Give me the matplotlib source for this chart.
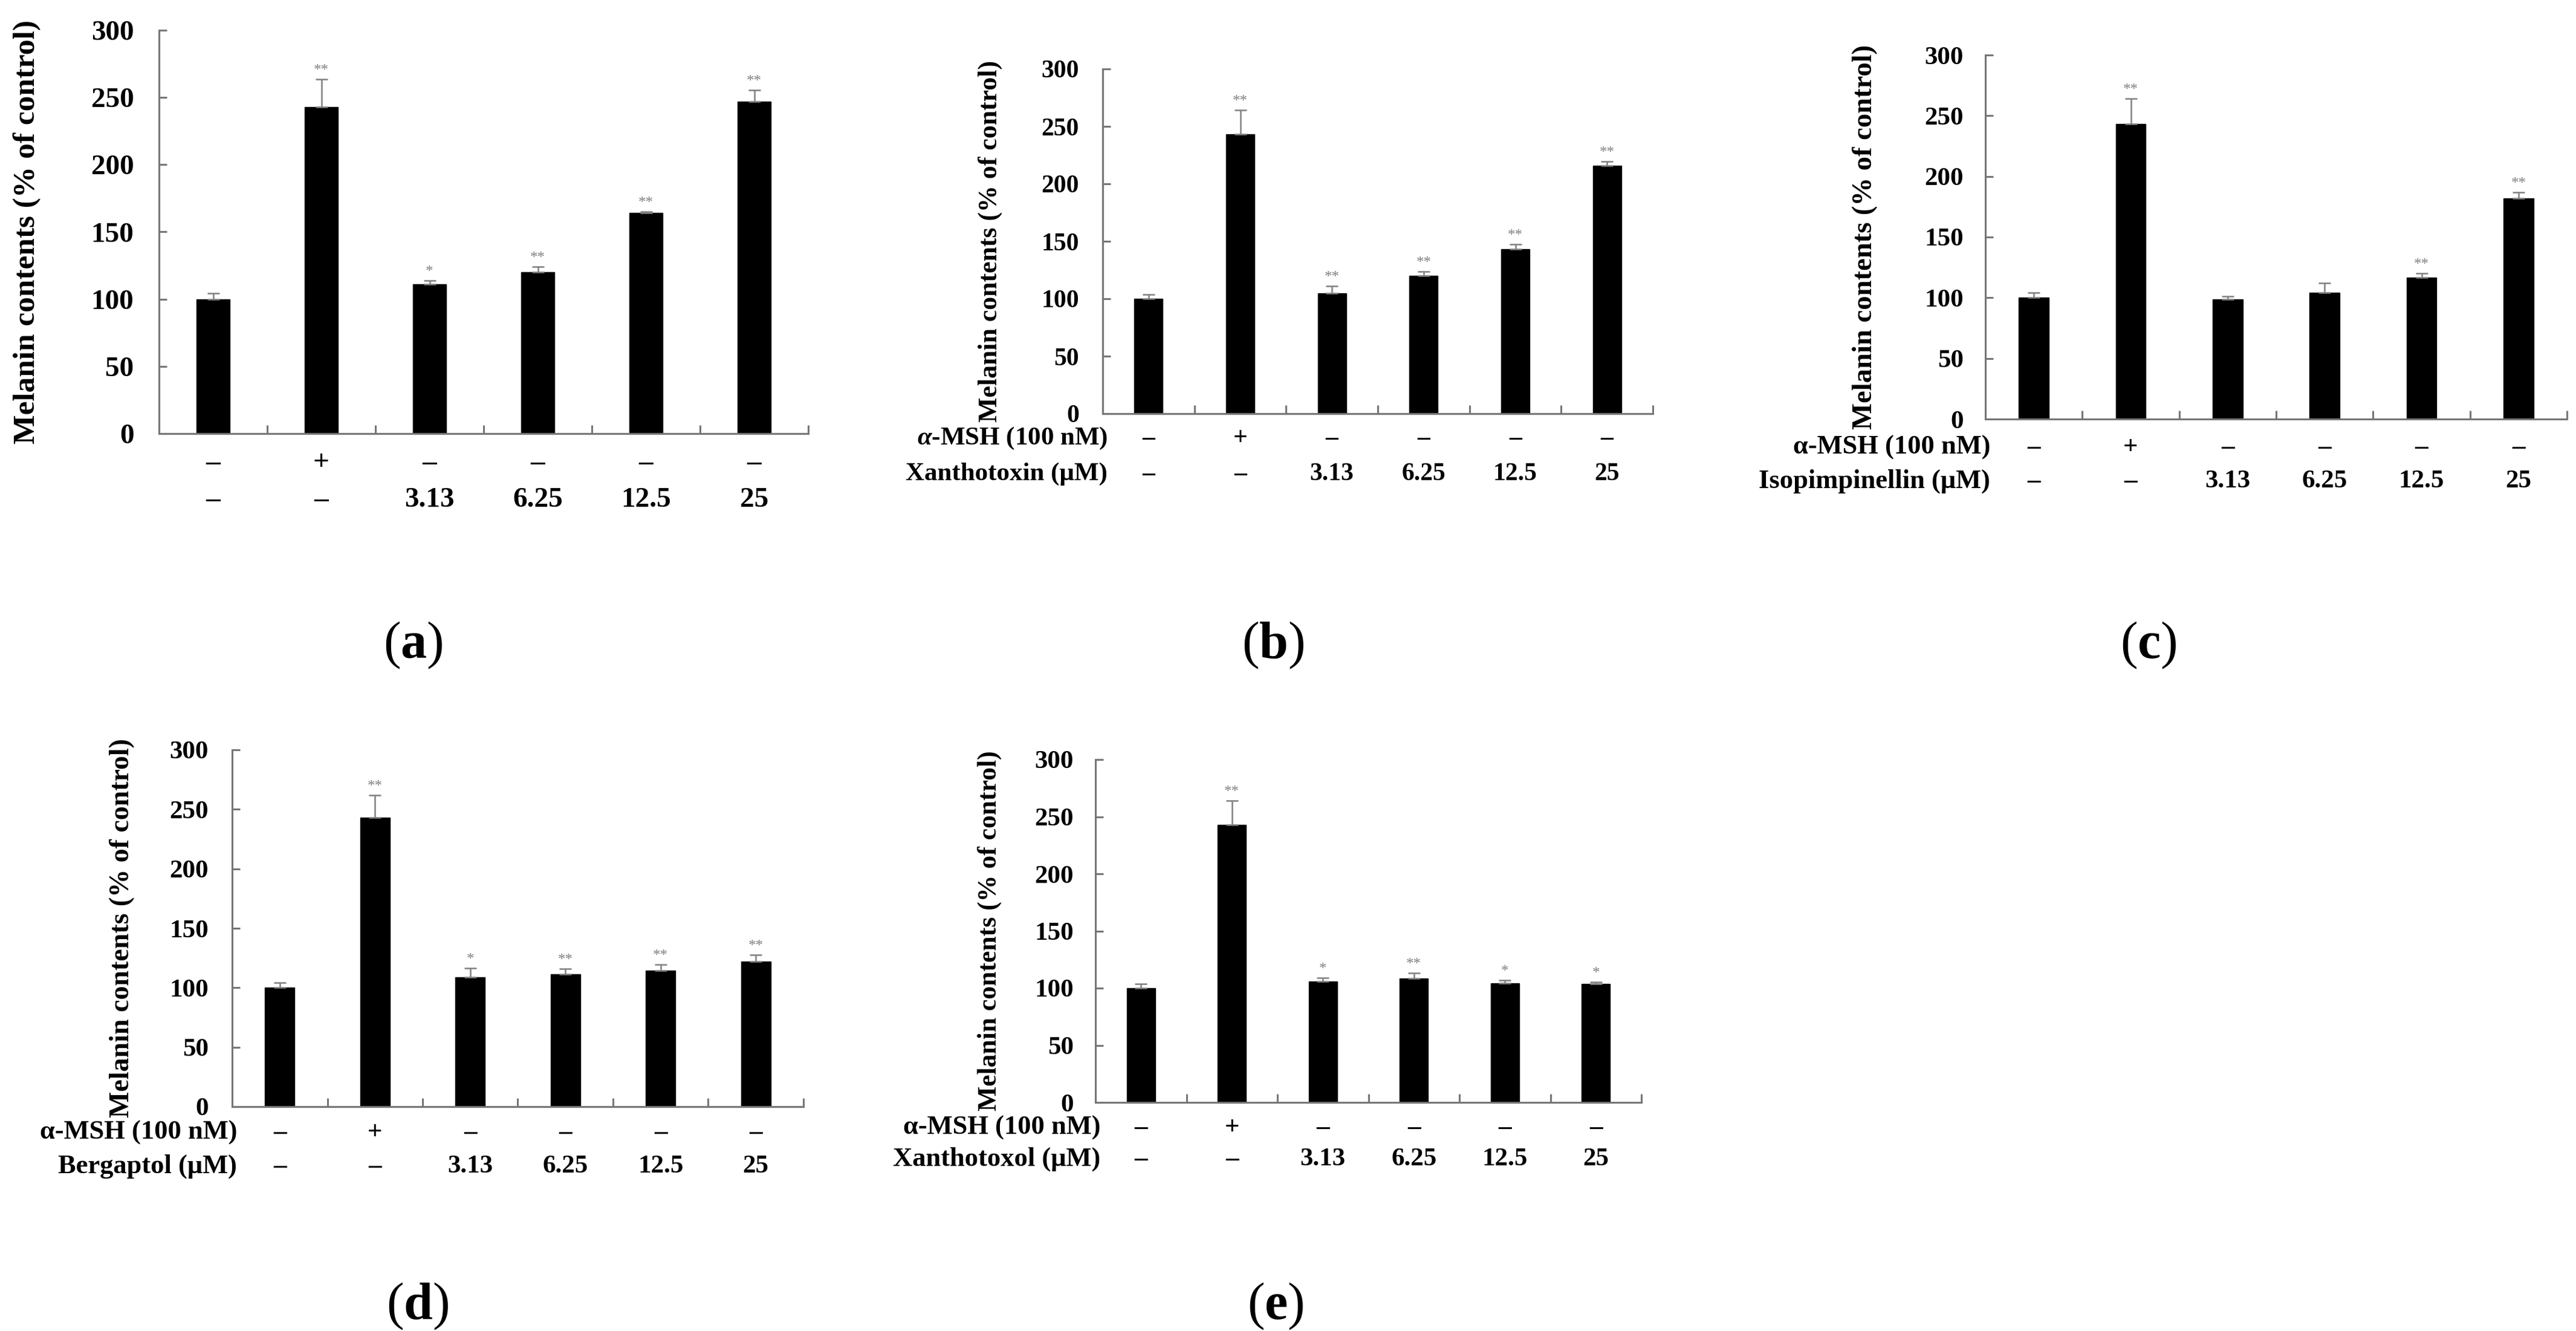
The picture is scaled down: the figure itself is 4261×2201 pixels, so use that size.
import numpy as np
import matplotlib
matplotlib.use("Agg")
import matplotlib.pyplot as plt

W, H, DPI = 4261, 2201, 200

# ── data ────────────────────────────────────────────────────────────────
msh_row  = ["–", "+", "–", "–", "–", "–"]
dose_row = ["–", "–", "3.13", "6.25", "12.5", "25"]

a_mean  = [100, 243, 111, 120, 164, 247]
a_err   = [4.5, 20.5, 3, 4, 1.2, 8.5]
a_stars = ["", "**", "*", "**", "**", "**"]

b_mean  = [100, 243, 105, 120, 143, 216]
b_err   = [3.5, 21, 6, 3.5, 4.5, 3.5]
b_stars = ["", "**", "**", "**", "**", "**"]

c_mean  = [100, 243, 98.5, 104, 116.5, 182]
c_err   = [4, 21, 2.5, 8, 3.5, 5]
c_stars = ["", "**", "", "", "**", "**"]

d_mean  = [100, 243, 109, 111.5, 114.5, 122]
d_err   = [4, 19, 7.5, 4.5, 5, 5.5]
d_stars = ["", "**", "*", "**", "**", "**"]

e_mean  = [100, 243, 106, 108.5, 104, 103.5]
e_err   = [3.5, 21, 3, 4.5, 3, 2]
e_stars = ["", "**", "*", "**", "*", "*"]

y_ticks = [0, 50, 100, 150, 200, 250, 300]
y_label = "Melanin contents (% of control)"

GREY  = "#808080"
SPINE = "#767676"

plt.rcParams.update({
    "font.family": "Liberation Serif",
    "font.weight": "bold",
    "mathtext.fontset": "custom",
    "mathtext.rm": "Liberation Serif",
    "mathtext.bf": "Liberation Serif:bold",
    "mathtext.it": "Liberation Serif:italic:bold",
})

# panel layout in pixels: left, top, right, bottom  + text styling
panels = [
    dict(letter="a", mean=a_mean, err=a_err, stars=a_stars, compound=None,
         msh="", box=(263, 50, 1337, 717), lab_pos=(683, 1067),
         fs_lab=18.5, fs_tick=17, ylab_off=218, pad=15, rows=(49, 110)),
    dict(letter="b", mean=b_mean, err=b_err, stars=b_stars,
         compound="Xanthotoxin (μM)", msh=r"$\mathit{\alpha}$-MSH (100 nM)",
         box=(1824, 114, 2734, 684), lab_pos=(2106, 1067),
         fs_lab=15.8, fs_tick=15, ylab_off=186, pad=14, rows=(41, 100)),
    dict(letter="c", mean=c_mean, err=c_err, stars=c_stars,
         compound="Isopimpinellin (μM)", msh="α-MSH (100 nM)",
         box=(3284, 91, 4246, 693), lab_pos=(3554, 1067),
         fs_lab=16.8, fs_tick=15.5, ylab_off=199, pad=13, rows=(47, 103)),
    dict(letter="d", mean=d_mean, err=d_err, stars=d_stars,
         compound="Bergaptol (μM)", msh="α-MSH (100 nM)",
         box=(384, 1240, 1329, 1830), lab_pos=(691, 2160),
         fs_lab=16.5, fs_tick=15.5, ylab_off=182, pad=14, rows=(43, 99)),
    dict(letter="e", mean=e_mean, err=e_err, stars=e_stars,
         compound="Xanthotoxol (μM)", msh="α-MSH (100 nM)",
         box=(1812, 1256, 2715, 1823), lab_pos=(2110, 2160),
         fs_lab=15.7, fs_tick=15.5, ylab_off=175, pad=13, rows=(42, 94)),
]

fig = plt.figure(figsize=(W / DPI, H / DPI), dpi=DPI)
fig.patch.set_facecolor("white")

for p in panels:
    l, t, r, b = p["box"]
    ax = fig.add_axes([l / W, 1 - b / H, (r - l) / W, (b - t) / H])
    mean = np.array(p["mean"], dtype=float)
    err = np.array(p["err"], dtype=float)
    x = np.arange(len(mean)) + 0.5

    ax.bar(x, mean, width=0.31, color="black", edgecolor="black",
           linewidth=0.5, zorder=2)
    ax.errorbar(x, mean, yerr=[np.zeros_like(err), err], fmt="none",
                ecolor=GREY, elinewidth=0.9, capsize=3.5, capthick=0.9,
                zorder=3)
    for xi, m, e, s in zip(x, mean, err, p["stars"]):
        if s:
            ax.annotate(s, (xi, m + e), xytext=(0, 3), textcoords="offset pixels",
                        ha="center", va="bottom", fontsize=9, color=GREY,
                        fontweight="normal")

    ax.set_xlim(0, 6)
    ax.set_ylim(0, 300)
    ax.set_yticks(y_ticks)
    ax.set_xticks(np.arange(0, 7))
    ax.set_xticklabels([])
    for side in ("top", "right"):
        ax.spines[side].set_visible(False)
    for side in ("left", "bottom"):
        ax.spines[side].set_color(SPINE)
        ax.spines[side].set_linewidth(1.1)
    ax.tick_params(axis="y", direction="in", length=4.7, width=1.1, color=SPINE,
                   labelsize=p["fs_tick"], pad=p["pad"])
    ax.tick_params(axis="x", direction="in", length=5, width=1.1, color=SPINE)
    for lbl in ax.get_yticklabels():
        lbl.set_fontweight("bold")

    ax.set_ylabel(y_label, fontsize=p["fs_lab"], fontweight="bold", va="center")
    ax.yaxis.set_label_coords(-p["ylab_off"] / (r - l), 0.5)

    r1, r2 = p["rows"]
    for xi, s1, s2 in zip(x, msh_row, dose_row):
        ax.annotate(s1, xy=(xi, 0), xycoords=("data", "axes fraction"),
                    xytext=(0, -r1), textcoords="offset pixels",
                    ha="center", va="center", fontsize=p["fs_tick"])
        ax.annotate(s2, xy=(xi, 0), xycoords=("data", "axes fraction"),
                    xytext=(0, -r2), textcoords="offset pixels",
                    ha="center", va="center", fontsize=p["fs_tick"])
    if p["compound"]:
        ax.annotate(p["msh"], xy=(0, 0), xycoords="axes fraction",
                    xytext=(8, -r1), textcoords="offset pixels",
                    ha="right", va="center", fontsize=p["fs_tick"] + 0.5)
        ax.annotate(p["compound"], xy=(0, 0), xycoords="axes fraction",
                    xytext=(8, -r2), textcoords="offset pixels",
                    ha="right", va="center", fontsize=p["fs_tick"] + 0.5)

    lx, ly = p["lab_pos"]
    fig.text(lx / W, 1 - ly / H, "($\\mathbf{%s}$)" % p["letter"],
             ha="center", va="center", fontsize=31, fontweight="normal")

fig.savefig("out.png", dpi=DPI, facecolor="white")
